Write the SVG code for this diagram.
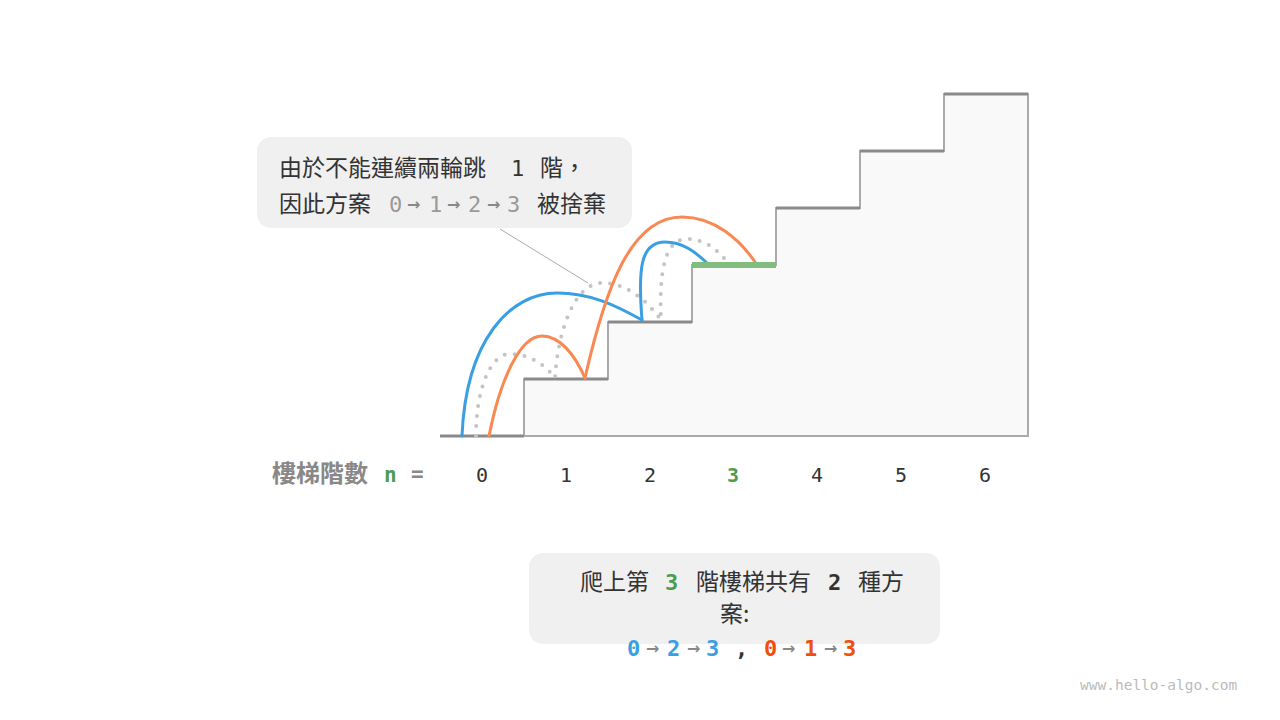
<svg xmlns="http://www.w3.org/2000/svg" width="1280" height="720" viewBox="0 0 1280 720">
<style>
.cjk{font-family:"Noto Sans CJK TC","Noto Sans CJK SC",sans-serif;fill:#333;}
.mono{font-family:"DejaVu Sans Mono","Liberation Mono",monospace;}
.tread{stroke:#8a8a8a;stroke-width:3;fill:none;}
.hop{fill:none;stroke-width:3;stroke-linecap:round;}
.blue{stroke:#3a9fe2;}
.orange{stroke:#f98953;}
.dots{fill:none;stroke:#c4c4c4;stroke-width:4;stroke-linecap:round;stroke-dasharray:0 10;}
.num{font-size:20px;fill:#333;text-anchor:middle;}
.arr{fill:#888;font-family:"DejaVu Sans",sans-serif;font-size:16px;font-weight:bold;}
</style>
<rect width="1280" height="720" fill="#ffffff"/>
<g id="stairs">
<path d="M524,436 V379 H608 V322 H692 V265 H776 V208 H860 V151 H944 V94 H1028 V436 Z" fill="#f9f9f9" stroke="#aaaaaa" stroke-width="2"/>
<path class="tread" d="M440,436 H524 M524,379 H608 M608,322 H692 M776,208 H860 M860,151 H944 M944,94 H1028"/>
</g>
<g id="connectors">
<path class="dots" d="M476,436 C476,390 490,354 510,354 C530,354 545,365 555,378 C558,330 575,283 602,283 C625,283 645,298 661,320 C659,270 665,239 687,239 C705,239 718,250 727,262"/>
<path class="hop blue" d="M462,436 C466,340 510,293 557,293 C590,293 615,305 642,320"/>
<path class="hop blue" d="M642,320 C638,270 640,242 665,242 C683,242 695,252 706,262"/>
<path class="hop orange" d="M489,436 C500,380 520,336 542,336 C560,336 575,355 585,378"/>
<path class="hop orange" d="M585,378 C605,290 630,217 682,217 C715,217 740,240 755,262"/>
<line x1="500" y1="229" x2="588" y2="283" stroke="#aaaaaa" stroke-width="1"/>
</g>
<g id="target-step">
<line x1="692" y1="265" x2="776" y2="265" stroke="#82bd80" stroke-width="6"/>
</g>
<g id="callout">
<rect x="257" y="137" width="375" height="91" rx="14" fill="#f0f0f0"/>
<text class="cjk" x="279" y="176" font-size="23">由於不能連續兩輪跳</text>
<text class="mono" x="511" y="176" font-size="22" fill="#333">1</text>
<text class="cjk" x="540" y="176" font-size="23">階，</text>
<text class="cjk" x="279" y="212" font-size="23">因此方案</text>
<g class="mono" fill="#999" font-size="22">
<text x="389" y="212">0</text><text class="arr" x="407" y="210">→</text>
<text x="429" y="212">1</text><text class="arr" x="447" y="210">→</text>
<text x="468" y="212">2</text><text class="arr" x="487" y="210">→</text>
<text x="507" y="212">3</text>
</g>
<text class="cjk" x="537" y="212" font-size="23">被捨棄</text>
</g>
<g id="axis">
<text class="cjk" x="272" y="482" font-size="24" font-weight="bold" style="fill:#888">樓梯階數</text>
<text class="mono" x="384" y="482" font-size="21" font-weight="bold" fill="#4e9c4f">n</text>
<text class="mono" x="411" y="481" font-size="21" font-weight="bold" fill="#888">=</text>
<g class="mono">
<text class="num" x="482" y="482">0</text>
<text class="num" x="566" y="482">1</text>
<text class="num" x="650" y="482">2</text>
<text class="num" x="733" y="482" font-weight="bold" style="fill:#4e9c4f">3</text>
<text class="num" x="817" y="482">4</text>
<text class="num" x="901" y="482">5</text>
<text class="num" x="985" y="482">6</text>
</g>
</g>
<g id="summary">
<rect x="529" y="553" width="411" height="91" rx="14" fill="#f0f0f0"/>
<text class="cjk" x="580" y="590" font-size="23">爬上第</text>
<text class="mono" x="665" y="590" font-size="22" font-weight="bold" fill="#4e9c4f">3</text>
<text class="cjk" x="696" y="590" font-size="23">階樓梯共有</text>
<text class="mono" x="828" y="590" font-size="22" font-weight="bold" fill="#333">2</text>
<text class="cjk" x="858" y="590" font-size="23">種方</text>
<text class="cjk" x="720" y="622" font-size="23">案:</text>
<g class="mono" font-size="22" font-weight="bold">
<text x="627" y="656" fill="#3a9fe2">0</text><text class="arr" x="646" y="654">→</text>
<text x="667" y="656" fill="#3a9fe2">2</text><text class="arr" x="687" y="654">→</text>
<text x="706" y="656" fill="#3a9fe2">3</text>
<text x="735" y="656" fill="#333">,</text>
<text x="764" y="656" fill="#f04e0c">0</text><text class="arr" x="782" y="654">→</text>
<text x="804" y="656" fill="#f04e0c">1</text><text class="arr" x="824" y="654">→</text>
<text x="843" y="656" fill="#f04e0c">3</text>
</g>
</g>
<text class="mono" x="1080" y="690" font-size="14.5" fill="#bbbbbb">www.hello-algo.com</text>
</svg>
